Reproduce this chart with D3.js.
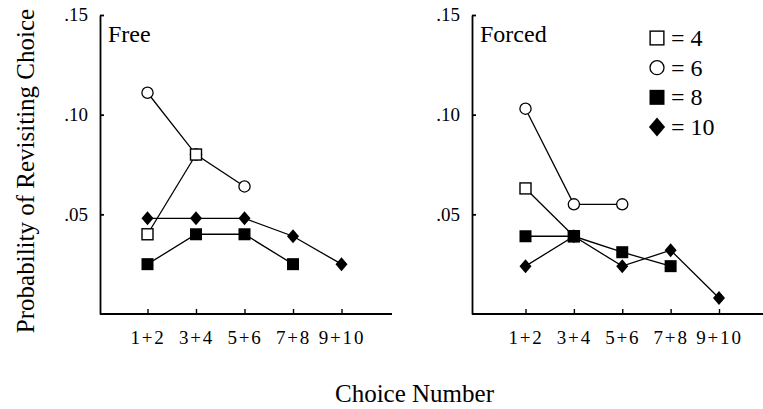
<!DOCTYPE html>
<html lang="en">
<head>
  <meta charset="UTF-8">
  <title>Probability of Revisiting Choice</title>
  <script src="https://d3js.org/d3.v7.min.js"></script>
  <style>
    body { margin: 0; background: #fff; }
    text { font-family: "Liberation Serif", "Times New Roman", serif; fill: #000; }
  </style>
</head>
<body>
  <div id="chart"></div>
  <script>
    // pairs of choices on the x axis
    const categories = ["1+2", "3+4", "5+6", "7+8", "9+10"];
    const yTicks = [0.05, 0.10, 0.15];
    const yTickLabels = [".05", ".10", ".15"];
    const setSizes = [4, 6, 8, 10];

    // Free condition
    const free4 = [0.040, 0.080];
    const free6 = [0.111, 0.080, 0.064];
    const free8 = [0.025, 0.040, 0.040, 0.025];
    const free10 = [0.048, 0.048, 0.048, 0.039, 0.025];

    // Forced condition
    const forced4 = [0.063, 0.039];
    const forced6 = [0.103, 0.055, 0.055];
    const forced8 = [0.039, 0.039, 0.031, 0.024];
    const forced10 = [0.024, 0.039, 0.024, 0.032, 0.008];

    const svgWidth = 763;
    const svgHeight = 409;

    const svg = d3.select("#chart")
      .append("svg")
      .attr("width", svgWidth)
      .attr("height", svgHeight);

    const yScale = d3.scaleLinear()
      .domain([0, 0.15])
      .range([314, 15]);

    const panels = [
      { title: "Free", axisX: 100, first: 147.5, last: 341.5, end: 392,
        series: [free4, free6, free8, free10] },
      { title: "Forced", axisX: 472, first: 525.5, last: 719, end: 763,
        series: [forced4, forced6, forced8, forced10] }
    ];

    // marker drawing per set size
    function drawMarker(sel, size, scale) {
      const k = scale || 1;
      if (size === 4) {
        sel.append("rect")
          .attr("x", -5.5 * k).attr("y", -5.5 * k)
          .attr("width", 11 * k).attr("height", 11 * k)
          .attr("fill", "#fff").attr("stroke", "#000").attr("stroke-width", 1.4);
      } else if (size === 6) {
        sel.append("circle")
          .attr("r", 5.6 * k)
          .attr("fill", "#fff").attr("stroke", "#000").attr("stroke-width", 1.3);
      } else if (size === 8) {
        sel.append("rect")
          .attr("x", -6 * k).attr("y", -6 * k)
          .attr("width", 12 * k).attr("height", 12 * k)
          .attr("fill", "#000");
      } else {
        sel.append("path")
          .attr("d", `M0,${-7 * k}L${6 * k},0L0,${7 * k}L${-6 * k},0Z`)
          .attr("fill", "#000");
      }
    }

    panels.forEach(p => {
      const xScale = d3.scalePoint()
        .domain(categories)
        .range([p.first, p.last]);

      const g = svg.append("g");

      // y axis
      g.append("g")
        .attr("transform", `translate(${p.axisX},0)`)
        .call(d3.axisLeft(yScale)
          .tickValues(yTicks)
          .tickFormat((d, i) => yTickLabels[i])
          .tickSizeInner(-4)
          .tickSizeOuter(0)
          .tickPadding(12))
        .call(a => a.select(".domain").attr("stroke-width", 1.8))
        .call(a => a.selectAll(".tick line").attr("stroke-width", 1.8))
        .call(a => a.selectAll(".tick text")
          .attr("font-size", 19)
          .attr("dy", "0.3em"));

      // x axis
      const xAxisG = g.append("g")
        .attr("transform", `translate(0,${yScale(0)})`)
        .call(d3.axisBottom(xScale)
          .tickSizeInner(-5)
          .tickSizeOuter(0)
          .tickPadding(17));
      xAxisG.select(".domain").remove();
      xAxisG.append("line")
        .attr("x1", p.axisX).attr("x2", p.end)
        .attr("stroke", "#000").attr("stroke-width", 1.8);
      xAxisG.selectAll(".tick line").attr("stroke-width", 1.4);
      xAxisG.selectAll(".tick text")
        .attr("font-size", 19)
        .attr("letter-spacing", 1.8);

      // panel label
      g.append("text")
        .attr("x", p.axisX + 8)
        .attr("y", 42)
        .attr("font-size", 24)
        .text(p.title);

      const line = d3.line()
        .x((d, i) => xScale(categories[i]))
        .y(d => yScale(d));

      // lines first
      p.series.forEach(values => {
        g.append("path")
          .datum(values)
          .attr("d", line)
          .attr("fill", "none")
          .attr("stroke", "#000")
          .attr("stroke-width", 1.3);
      });

      // markers: circles, open squares, then filled
      [1, 0, 2, 3].forEach(s => {
        g.selectAll(null)
          .data(p.series[s])
          .enter()
          .append("g")
          .attr("transform", (d, i) => `translate(${xScale(categories[i])},${yScale(d)})`)
          .each(function () { drawMarker(d3.select(this), setSizes[s]); });
      });
    });

    // legend
    const legendY = d3.scalePoint()
      .domain(setSizes)
      .range([38, 127]);

    const legend = svg.append("g");
    setSizes.forEach(s => {
      const row = legend.append("g")
        .attr("transform", `translate(657,${legendY(s)})`);
      drawMarker(row, s, s === 10 ? 1.35 : 1.25);
      row.append("text")
        .attr("x", 14)
        .attr("y", 8)
        .attr("font-size", 24)
        .text(`= ${s}`);
    });

    // axis titles
    svg.append("text")
      .attr("transform", "translate(34,171) rotate(-90)")
      .attr("text-anchor", "middle")
      .attr("font-size", 25)
      .text("Probability of Revisiting Choice");

    svg.append("text")
      .attr("x", 335)
      .attr("y", 402)
      .attr("font-size", 25)
      .text("Choice Number");
  </script>
</body>
</html>
